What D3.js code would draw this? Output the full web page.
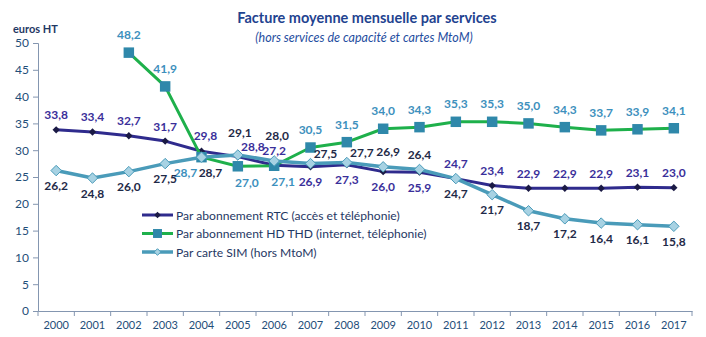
<!DOCTYPE html>
<html>
<head>
<meta charset="utf-8">
<script src="https://cdn.jsdelivr.net/npm/d3@7"></script>
<style>
    body { margin: 0; background: #fff; }
    svg { font-family: Lato, "Open Sans", sans-serif; }
</style>
</head>
<body>
<div id="chart"></div>
<script>
// data
const years = ["2000","2001","2002","2003","2004","2005","2006","2007","2008",
    "2009","2010","2011","2012","2013","2014","2015","2016","2017"];
const rtcValues = [33.8, 33.4, 32.7, 31.7, 29.8, 28.8, 27.2, 26.9, 27.3,
    26.0, 25.9, 24.7, 23.4, 22.9, 22.9, 22.9, 23.1, 23.0];
const hdValues = [null, null, 48.2, 41.9, 28.7, 27.0, 27.1, 30.5, 31.5,
    34.0, 34.3, 35.3, 35.3, 35.0, 34.3, 33.7, 33.9, 34.1];
const simValues = [26.2, 24.8, 26.0, 27.5, 28.7, 29.1, 28.0, 27.5, 27.7,
    26.9, 26.4, 24.7, 21.7, 18.7, 17.2, 16.4, 16.1, 15.8];
const yTicks = [0, 5, 10, 15, 20, 25, 30, 35, 40, 45, 50];
const seriesNames = ["Par abonnement RTC (accès et téléphonie)",
    "Par abonnement HD THD (internet, téléphonie)",
    "Par carte SIM (hors MtoM)"];

// where each value label sits relative to its point
const rtcLabelPos = ["t","t","t","t","tR","tr","t","b","b","b","b","t","t","t","t","t","t","t"];
const hdLabelPos = [null,null,"T","T","bl","br","br","T","T","T","T","T","T","T","T","T","T","T"];
const simLabelPos = ["b","b","b","b","bR","tl","tt","tr","tr","tx","t","b","b","b","b","b","b","b"];

const offsets = {
    t: [0, -15], b: [0, 15], T: [0, -18], tr: [15, -10], tR: [4, -16],
    tt: [3, -25], tl: [2, -23], tx: [5, -15], bl: [-16, 15], br: [9, 16], bR: [9, 15]
};

const W = 706, H = 337;
const margin = {top: 43, right: 14, bottom: 26, left: 38};
const width = W - margin.left - margin.right;
const height = H - margin.top - margin.bottom;

const svg = d3.select("#chart").append("svg")
    .attr("width", W)
    .attr("height", H);

// titles
svg.append("text")
    .attr("x", 367).attr("y", 23)
    .attr("text-anchor", "middle")
    .style("font-size", "14.5px").style("font-weight", "bold")
    .attr("fill", "#1f4390")
    .text("Facture moyenne mensuelle par services");
svg.append("text")
    .attr("x", 364).attr("y", 42)
    .attr("text-anchor", "middle")
    .style("font-size", "12.5px").style("font-style", "italic")
    .attr("fill", "#1f4ea0")
    .text("(hors services de capacité et cartes MtoM)");
svg.append("text")
    .attr("x", 13).attr("y", 33)
    .style("font-size", "11px").style("font-weight", "bold")
    .attr("fill", "#1f3864")
    .text("euros HT");

const g = svg.append("g")
    .attr("transform", "translate(" + margin.left + "," + margin.top + ")");

const x = d3.scaleBand()
    .domain(years)
    .range([0, width]);

const y = d3.scaleLinear()
    .domain([0, 50])
    .range([height, 0]);

const axisColor = "#8496b0";
const tickColor = "#1f4e79";

// y axis
const yAxis = g.append("g")
    .call(d3.axisLeft(y).tickValues(yTicks).tickSize(5).tickPadding(4));
yAxis.select(".domain").attr("stroke", axisColor);
yAxis.selectAll(".tick line").attr("stroke", axisColor);
yAxis.selectAll("text")
    .style("font-size", "12px")
    .attr("fill", tickColor)
    .attr("font-family", "Lato, sans-serif");

// x axis with ticks on category boundaries
const xAxis = g.append("g")
    .attr("transform", "translate(0," + height + ")")
    .call(d3.axisBottom(x).tickSize(0).tickPadding(10));
xAxis.select(".domain").attr("stroke", axisColor);
xAxis.selectAll("text")
    .style("font-size", "11px")
    .attr("fill", tickColor)
    .attr("font-family", "Lato, sans-serif");
g.append("g").selectAll("line")
    .data(years.concat(["end"]))
    .enter().append("line")
    .attr("x1", (d, i) => i * x.step())
    .attr("x2", (d, i) => i * x.step())
    .attr("y1", height)
    .attr("y2", height + 5)
    .attr("stroke", axisColor);

const cx = i => x(years[i]) + x.bandwidth() / 2;

const series = [
    {values: rtcValues, pos: rtcLabelPos, line: "#2f2b8d", width: 3,
        marker: "diamond", size: 34, fill: "#1b1a45", stroke: "none", label: "#3a2f9a"},
    {values: hdValues, pos: hdLabelPos, line: "#1eb04b", width: 3,
        marker: "square", size: 110, fill: "#2f88aa", stroke: "none", label: "#3d90bd"},
    {values: simValues, pos: simLabelPos, line: "#4a9bb9", width: 3.5,
        marker: "diamond", size: 70, fill: "#a7d2e3", stroke: "#4a9bb9", label: "#1f2a48"}
];

const line = d3.line()
    .defined(d => d != null)
    .x((d, i) => cx(i))
    .y(d => y(d));

series.forEach(s => {
    g.append("path")
        .datum(s.values)
        .attr("fill", "none")
        .attr("stroke", s.line)
        .attr("stroke-width", s.width)
        .attr("stroke-linejoin", "round")
        .attr("d", line);

    const sym = d3.symbol()
        .type(s.marker == "square" ? d3.symbolSquare : d3.symbolDiamond2)
        .size(s.size);

    g.selectAll(null)
        .data(s.values.map((v, i) => ({v: v, i: i})).filter(d => d.v != null))
        .enter().append("path")
        .attr("d", sym)
        .attr("transform", d => "translate(" + cx(d.i) + "," + y(d.v) + ")")
        .attr("fill", s.fill)
        .attr("stroke", s.stroke)
        .attr("stroke-width", 1);
});

// value labels on top of everything
series.forEach(s => {
    g.selectAll(null)
        .data(s.values.map((v, i) => ({v: v, i: i})).filter(d => d.v != null))
        .enter().append("text")
        .attr("x", d => cx(d.i) + offsets[s.pos[d.i]][0])
        .attr("y", d => y(d.v) + offsets[s.pos[d.i]][1])
        .attr("text-anchor", "middle")
        .attr("dominant-baseline", "central")
        .style("font-size", "12px")
        .style("font-weight", "bold")
        .attr("fill", s.label)
        .text(d => d3.format(".1f")(d.v).replace(".", ","));
});

// legend
const legend = svg.append("g")
    .attr("transform", "translate(142,215)");
series.forEach((s, i) => {
    const row = legend.append("g").attr("transform", "translate(0," + (i * 18.5) + ")");
    row.append("line")
        .attr("x1", 0).attr("x2", 31)
        .attr("stroke", s.line)
        .attr("stroke-width", s.width);
    row.append("path")
        .attr("d", d3.symbol()
            .type(s.marker == "square" ? d3.symbolSquare : d3.symbolDiamond2)
            .size(s.marker == "square" ? 80 : 28))
        .attr("transform", "translate(15.5,0)")
        .attr("fill", s.fill)
        .attr("stroke", s.stroke);
    row.append("text")
        .attr("x", 34)
        .attr("dominant-baseline", "central")
        .style("font-size", "12.1px")
        .attr("fill", "#1f3864")
        .text(seriesNames[i]);
});
</script>
</body>
</html>
